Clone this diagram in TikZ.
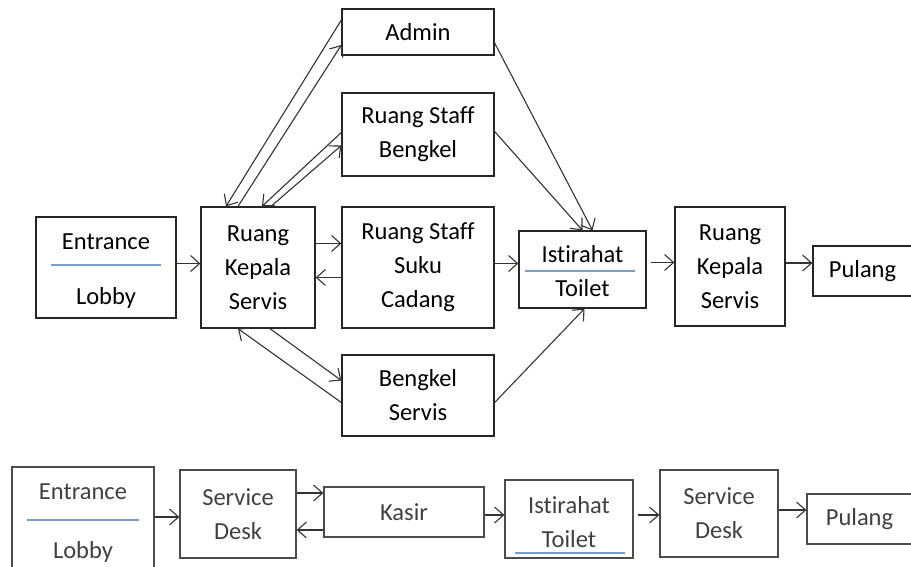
\documentclass[tikz,border=0pt]{standalone}
\usepackage{fontspec}
\setmainfont{Carlito}[Ligatures={NoCommon,NoContextual,NoRare}, Contextuals={NoAlternate}]
\usetikzlibrary{arrows.meta}

\begin{document}
\begin{tikzpicture}[x=1pt, y=-1pt,
  box/.style={draw=black!85, line width=1.3pt, inner sep=0pt, align=center, font=\fontsize{24.5}{34}\selectfont},
  txt/.style={inner sep=0pt, font=\fontsize{24.5}{34}\selectfont},
  grey/.style={text=black!75, draw=black!70},
  arr/.style={-{Straight Barb[length=9pt, width=16pt]}, line width=1.1pt, draw=black!80},
  sepline/.style={draw={rgb,255:red,122;green,156;blue,203}, line width=1.3pt}
]
\useasboundingbox (0,0) rectangle (911,566);

% Top flow
\node[box, minimum width=140pt, minimum height=101pt] (entr) at (106,267.5) {};
\node[txt] (entrT) at (106,242) {Entrance};
\node[txt] (entrB) at (106,298) {Lobby};
\draw[sepline] (51,265) -- (161,265);

\node[box, minimum width=114pt, minimum height=121pt] (rks) at (258,267.5) {Ruang\\Kepala\\Servis};
\node[box, minimum width=152pt, minimum height=46pt] (adm) at (418,32) {Admin};
\node[box, minimum width=152pt, minimum height=83pt] (rsb) at (418,134.5) {Ruang Staff\\Bengkel};
\node[box, minimum width=152pt, minimum height=121pt] (rssc) at (418,267.5) {Ruang Staff\\Suku\\Cadang};
\node[box, minimum width=152pt, minimum height=81pt] (bs) at (418,395.5) {Bengkel\\Servis};

\node[box, minimum width=127pt, minimum height=77pt] (ist) at (582.5,269.5) {};
\node[txt] (istT) at (582.5,254) {Istirahat};
\node[txt] (istB) at (582.5,288) {Toilet};
\draw[sepline] (525,271) -- (635,271);

\node[box, minimum width=110pt, minimum height=119pt] (rks2) at (730,266.5) {Ruang\\Kepala\\Servis};
\node[box, minimum width=99pt, minimum height=50pt] (pul) at (862.5,271) {Pulang};

\draw[arr] ([yshift=4pt]entr.east) -- ([yshift=4pt]rks.west);
\draw[arr] ([yshift=12pt]adm.west) -- ([xshift=-32pt]rks.north);
\draw[arr] ([xshift=-20pt]rks.north) -- ([yshift=-13pt]adm.west);
\draw[arr] ([yshift=2pt]rsb.west) -- ([xshift=4pt]rks.north);
\draw[arr] ([xshift=13pt]rks.north) -- ([yshift=-11pt]rsb.west);
\draw[arr] ([yshift=24pt]rks.east) -- ([yshift=24pt]rks.east -| rssc.west);
\draw[arr] ([yshift=-10pt]rssc.west) -- ([yshift=-10pt]rssc.west -| rks.east);
\draw[arr] ([xshift=12pt]rks.south) -- ([yshift=15pt]bs.west);
\draw[arr] ([yshift=-7pt]bs.west) -- ([xshift=-20pt]rks.south);

\draw[arr] ([yshift=-11pt]adm.east) -- ([xshift=10pt]ist.north);
\draw[arr] ([yshift=3pt]rsb.east) -- (ist.north);
\draw[arr] ([yshift=4pt]rssc.east) -- ([yshift=4pt]rssc.east -| ist.west);
\draw[arr] ([yshift=-7pt]bs.east) -- ([xshift=2pt]ist.south);
\draw[arr, shorten <=4pt] ([yshift=7pt]ist.east) -- ([yshift=7pt]ist.east -| rks2.west);
\draw[arr] ([yshift=8pt]pul.west -| rks2.east) -- ([yshift=8pt]pul.west);

% Bottom flow
\node[box, grey, minimum width=142pt, minimum height=113pt] (entr2) at (83,523.5) {};
\node[txt, text=black!75] (entr2T) at (83,492) {Entrance};
\node[txt, text=black!75] (entr2B) at (83,552) {Lobby};
\draw[sepline] (27,520) -- (139,520);

\node[box, grey, minimum width=116pt, minimum height=88pt] (sd) at (238,514) {Service\\Desk};
\node[box, grey, minimum width=160pt, minimum height=50pt] (kas) at (404,512) {Kasir};

\node[box, grey, minimum width=128pt, minimum height=78pt] (ist2) at (569,519) {};
\node[txt, text=black!75] (ist2T) at (569,505) {Istirahat};
\node[txt, text=black!75] (ist2B) at (569,539) {Toilet};
\draw[sepline] (515,553) -- (625,553);

\node[box, grey, minimum width=118pt, minimum height=87pt] (sd2) at (719,513.5) {Service\\Desk};
\node[box, grey, minimum width=105pt, minimum height=50pt] (pul2) at (859.5,519) {Pulang};

\draw[arr] ([yshift=-3pt]sd.west -| entr2.east) -- ([yshift=-3pt]sd.west);
\draw[arr] ([yshift=21pt]sd.east) -- ([yshift=21pt]sd.east -| kas.west);
\draw[arr] ([yshift=-16pt]sd.east -| kas.west) -- ([yshift=-16pt]sd.east);
\draw[arr] ([yshift=-3pt]kas.east) -- ([yshift=-3pt]kas.east -| ist2.west);
\draw[arr, shorten <=4pt] ([yshift=4pt]ist2.east) -- ([yshift=4pt]ist2.east -| sd2.west);
\draw[arr] ([yshift=3.5pt]sd2.east) -- ([yshift=3.5pt]sd2.east -| pul2.west);

\end{tikzpicture}
\end{document}
